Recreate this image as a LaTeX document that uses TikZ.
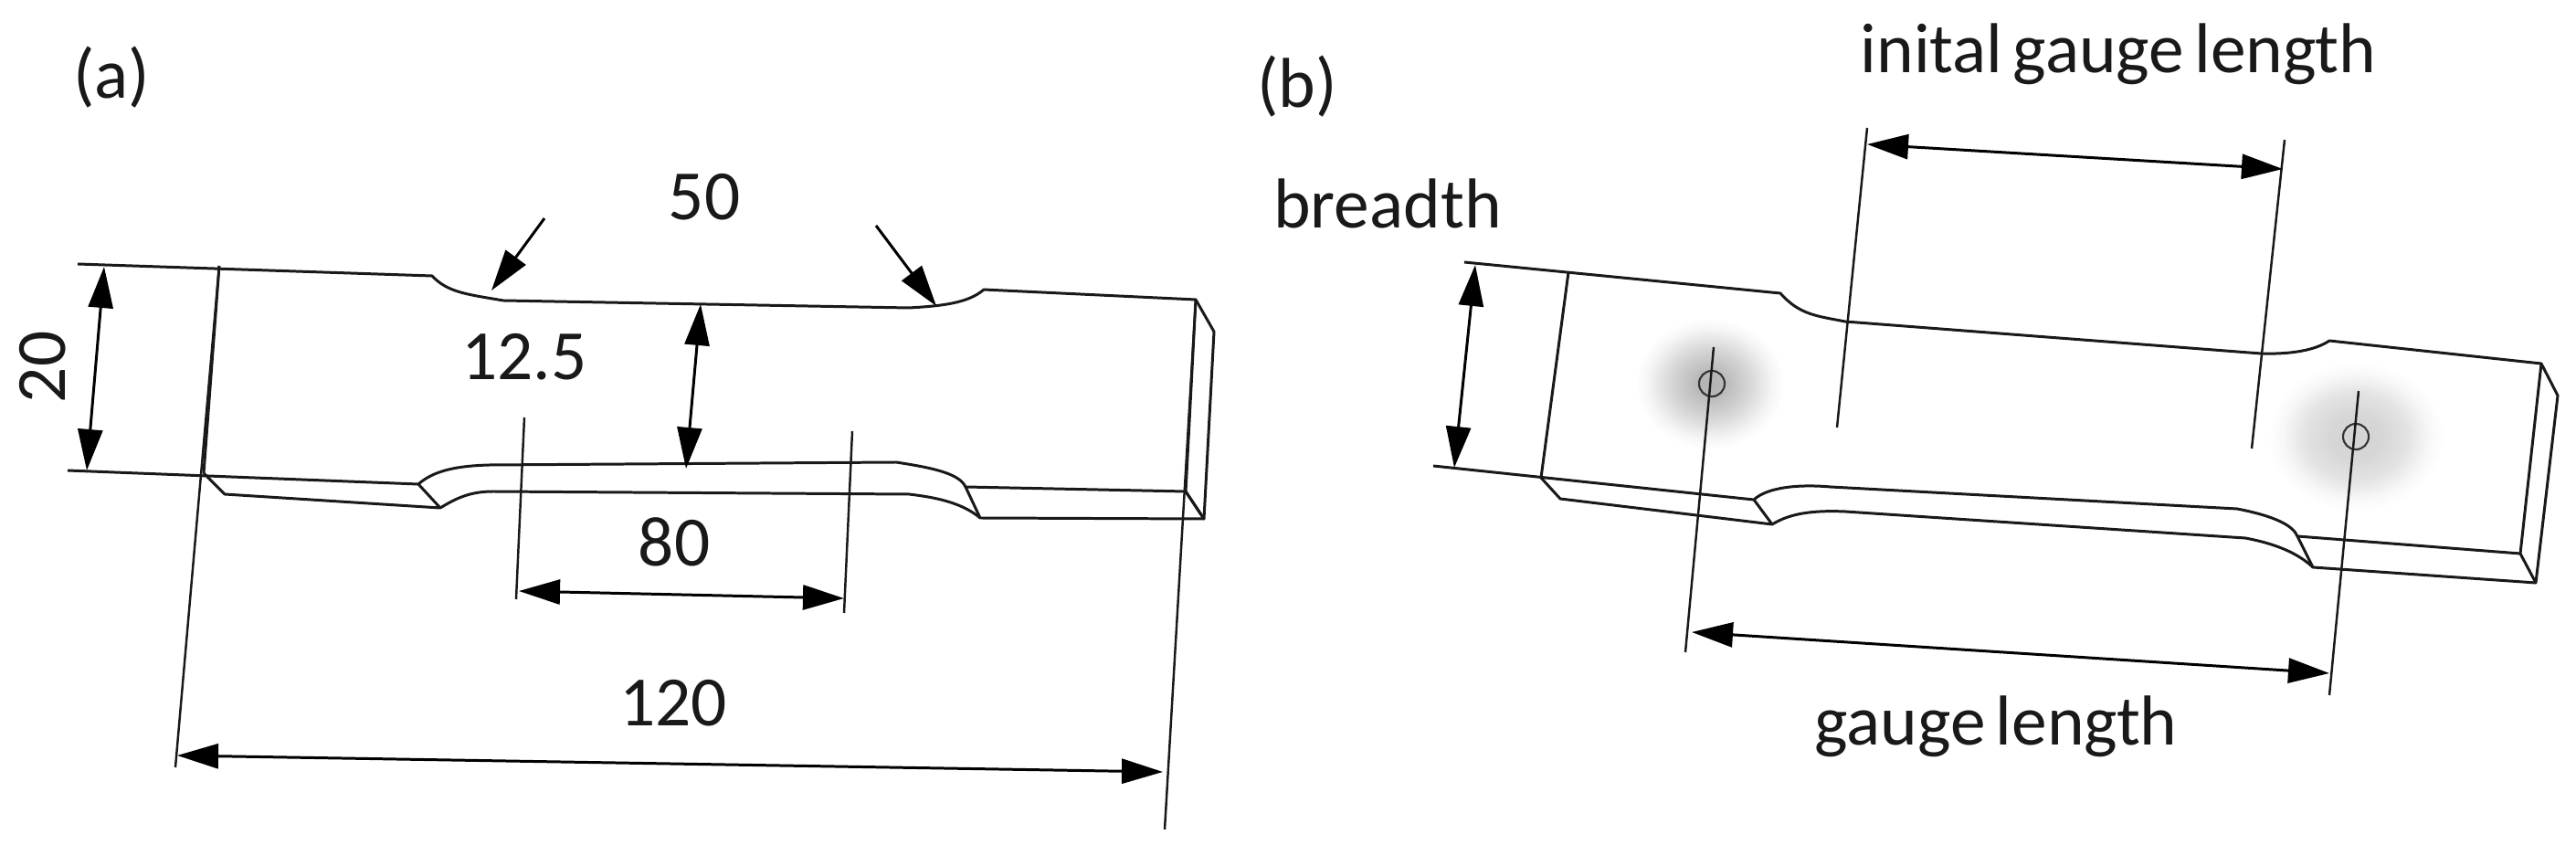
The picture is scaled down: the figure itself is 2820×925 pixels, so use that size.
\documentclass[tikz,border=0pt]{standalone}
\usepackage{fontspec}
\setmainfont[WordSpace=0.65]{Carlito}
\usetikzlibrary{arrows.meta}
\pgfdeclareradialshading{spot}{\pgfpoint{0bp}{0bp}}{color(0bp)=(black!30); color(4bp)=(black!28); color(12bp)=(black!17); color(20bp)=(black!4); color(24bp)=(white); color(50bp)=(white)}
\pgfdeclareradialshading{spotb}{\pgfpoint{0bp}{0bp}}{color(0bp)=(black!17); color(7bp)=(black!16); color(14bp)=(black!11); color(20bp)=(black!3); color(24bp)=(white); color(50bp)=(white)}
\tikzset{
  body/.style={draw=black!90,line width=0.85pt,line join=round},
  thin line/.style={draw=black!90,line width=0.7pt},
  dim/.style={draw=black,line width=0.85pt,{Triangle[length=0.45cm,width=0.27cm]}-{Triangle[length=0.45cm,width=0.27cm]}},
  pointer/.style={draw=black,line width=0.85pt,-{Triangle[length=0.45cm,width=0.27cm]}},
  lab/.style={font=\fontsize{22}{26}\selectfont,inner sep=0pt,text=black!90},
  hole/.style={draw=black!80,line width=0.6pt,circle,minimum size=0.28cm,inner sep=0pt},
}
\begin{document}
\begin{tikzpicture}[x=0.01cm,y=-0.01cm]
\useasboundingbox (0,0) rectangle (2820,925);
% ---------- (a) ----------
\path[body] (85,289) -- (473,302) .. controls (490,320) and (510,322) .. (551,329)
  -- (995,337) .. controls (1030,335) and (1060,332) .. (1077,317)
  -- (1309,328) -- (1329,363) -- (1318,568) -- (1298,538);
\path[body] (74,515) -- (458,530) .. controls (475,515) and (500,510) .. (536,509)
  -- (981,506) .. controls (1020,512) and (1050,518) .. (1057,533) -- (1298,538);
\path[body] (223,518) -- (246,541) -- (482,556) -- (458,530);
\path[body] (482,556) .. controls (500,545) and (515,538) .. (540,538)
  -- (995,541) .. controls (1030,545) and (1055,552) .. (1073,567) -- (1318,568);
\path[body] (1057,533) -- (1073,567);
\path[body] (1298,538) -- (1318,568);
\path[body] (240,291) -- (223,518);
\path[body] (1309,328) -- (1298,538);
\coordinate (aL1) at (240,291); \coordinate (aL2) at (192,840);
\coordinate (aR1) at (1309,328); \coordinate (aR2) at (1275,908);
\draw[thin line] (aL1) -- (aL2);
\draw[thin line] (aR1) -- (aR2);
\coordinate (a80L1) at (574,457); \coordinate (a80L2) at (565,656);
\coordinate (a80R1) at (933,472); \coordinate (a80R2) at (924,671);
\draw[thin line] (a80L1) -- (a80L2);
\draw[thin line] (a80R1) -- (a80R2);
\coordinate (d120a) at (194,827); \coordinate (d120b) at (1273,845);
\draw[dim] (d120a) -- (d120b);
\coordinate (d80a) at (568,647); \coordinate (d80b) at (924,655);
\draw[dim] (d80a) -- (d80b);
\coordinate (d12a) at (767,333); \coordinate (d12b) at (751,513);
\draw[dim] (d12a) -- (d12b);
\coordinate (d20a) at (114,292); \coordinate (d20b) at (95,515);
\draw[dim] (d20a) -- (d20b);
\coordinate (p1a) at (596,239); \coordinate (p1b) at (538,318);
\draw[pointer] (p1a) -- (p1b);
\coordinate (p2a) at (959,247); \coordinate (p2b) at (1025,335);
\draw[pointer] (p2a) -- (p2b);
\node[lab] (la) at (122,85) {(a)};
\node[lab] (l50) at (771,216) {50};
\node[lab] (l125) at (574,391) {12.5};
\node[lab,rotate=90] (l20) at (47,402) {20};
\node[lab] (l80) at (738,593) {80};
\node[lab] (l120) at (737,770) {120};
% ---------- (b) ----------
\shade[shading=spot] (1872,420) ellipse (85 and 75);
\shade[shading=spotb] (2579,478) ellipse (100 and 85);
\path[body] (1603,287) -- (1949,321) .. controls (1970,345) and (1990,346) .. (2020,352)
  -- (2475,387) .. controls (2510,388) and (2535,383) .. (2550,373)
  -- (2782,398) -- (2800,433) -- (2776,638) -- (2759,606) -- (2782,398);
\path[body] (1717,298) -- (1687,523);
\path[body] (1569,510) -- (1920,547) .. controls (1935,533) and (1970,530) .. (2004,533)
  -- (2449,557) .. controls (2490,565) and (2510,575) .. (2515,587) -- (2759,606);
\path[body] (1687,523) -- (1708,546) -- (1940,574) -- (1920,547);
\path[body] (1940,574) .. controls (1955,565) and (1975,558) .. (2020,560)
  -- (2458,589) .. controls (2490,595) and (2515,605) .. (2532,621) -- (2776,638);
\path[body] (2515,587) -- (2532,621);
\node[hole] (h1) at (1874,420) {};
\node[hole] (h2) at (2579,478) {};
\coordinate (bG1) at (1876,380); \coordinate (bG2) at (1845,714);
\coordinate (bH1) at (2582,428); \coordinate (bH2) at (2550,761);
\coordinate (bI1) at (2044,140); \coordinate (bI2) at (2011,468);
\coordinate (bJ1) at (2501,153); \coordinate (bJ2) at (2465,491);
\draw[thin line] (bG1) -- (bG2);
\draw[thin line] (bH1) -- (bH2);
\draw[thin line] (bI1) -- (bI2);
\draw[thin line] (bJ1) -- (bJ2);
\coordinate (di1) at (2044,158); \coordinate (di2) at (2499,185);
\draw[dim] (di1) -- (di2);
\coordinate (dg1) at (1852,692); \coordinate (dg2) at (2550,737);
\draw[dim] (dg1) -- (dg2);
\coordinate (db1) at (1615,290); \coordinate (db2) at (1592,512);
\draw[dim] (db1) -- (db2);
\node[lab] (lb) at (1420,95) {(b)};
\node[lab] (lig) at (2319,59) {inital gauge length};
\node[lab] (lbr) at (1519,223) {breadth};
\node[lab] (lgl) at (2185,795) {gauge length};
\end{tikzpicture}
\end{document}
